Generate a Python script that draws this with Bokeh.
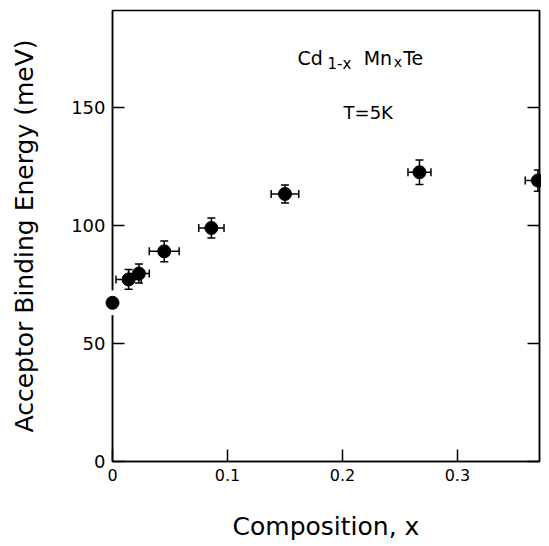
from bokeh.plotting import figure
from bokeh.models import Range1d, LinearAxis, FixedTicker, Whisker, ColumnDataSource, Label
from bokeh.embed import file_html
from bokeh.resources import INLINE

# Data
composition = [0.0, 0.014, 0.023, 0.045, 0.086, 0.150, 0.267, 0.370]
energy = [67.2, 77.1, 79.6, 89.0, 98.9, 113.3, 122.5, 119.0]
x_err = [0.0, 0.011, 0.009, 0.013, 0.011, 0.012, 0.010, 0.011]
y_err = [0.0, 4.2, 4.0, 4.4, 4.2, 3.8, 5.2, 4.5]

x_ticks = [0, 0.1, 0.2, 0.3]
x_tick_labels = {0: "0", 0.1: "0.1", 0.2: "0.2", 0.3: "0.3"}
y_ticks = [0, 50, 100, 150]

FONT = "DejaVu Sans"

p = figure(frame_width=427, frame_height=451, output_backend="svg", toolbar_location=None,
           x_range=Range1d(0, 0.3714), y_range=Range1d(0, 191),
           min_border_left=112, min_border_right=2, min_border_top=10, min_border_bottom=84)
p.background_fill_color = "white"
p.border_fill_color = "white"
p.outline_line_color = "black"
p.outline_line_width = 1.5
p.grid.visible = False

# axes
for ax in (p.xaxis[0], p.yaxis[0]):
    ax.axis_line_width = 1.5
    ax.major_tick_line_width = 1.5
    ax.major_tick_in = 12
    ax.major_tick_out = 0
    ax.minor_tick_line_color = None
    ax.major_label_text_font = FONT
    ax.axis_label_text_font = FONT
    ax.axis_label_text_font_style = "normal"
    ax.axis_label_text_color = "black"
    ax.major_label_text_color = "black"
    ax.axis_label_text_font_size = "25px"

p.xaxis[0].ticker = FixedTicker(ticks=x_ticks)
p.xaxis[0].major_label_overrides = x_tick_labels
p.xaxis[0].major_label_text_font_size = "16px"
p.xaxis[0].major_label_standoff = 7
p.xaxis[0].axis_label = "Composition, x"
p.xaxis[0].axis_label_standoff = 28

p.yaxis[0].ticker = FixedTicker(ticks=y_ticks)
p.yaxis[0].major_label_text_font_size = "18px"
p.yaxis[0].major_label_standoff = 7
p.yaxis[0].axis_label = "Acceptor Binding Energy (meV)"
p.yaxis[0].axis_label_standoff = 29

right = LinearAxis(ticker=FixedTicker(ticks=y_ticks), major_label_text_color=None,
                   major_label_standoff=0, major_tick_in=12, major_tick_out=0,
                   minor_tick_line_color=None, axis_line_width=1.5, major_tick_line_width=1.5)
p.add_layout(right, "right")

# error bars (points with uncertainties)
idx = [i for i in range(len(composition)) if y_err[i] > 0]
err = ColumnDataSource(dict(
    x=[composition[i] for i in idx],
    y=[energy[i] for i in idx],
    xl=[composition[i] - x_err[i] for i in idx],
    xu=[composition[i] + x_err[i] for i in idx],
    yl=[energy[i] - y_err[i] for i in idx],
    yu=[energy[i] + y_err[i] for i in idx],
))
for dim, base, lo, up in (("height", "x", "yl", "yu"), ("width", "y", "xl", "xu")):
    w = Whisker(source=err, base=base, lower=lo, upper=up, dimension=dim,
                line_color="black", line_width=1.5, level="overlay")
    w.upper_head.size = 8
    w.lower_head.size = 8
    w.upper_head.line_width = 1.5
    w.lower_head.line_width = 1.5
    p.add_layout(w)

src = ColumnDataSource(dict(x=composition, y=energy))
p.scatter(x=[composition[0]], y=[energy[0]], size=24, color="white", level="overlay")
p.scatter("x", "y", source=src, size=13, color="black", level="overlay")

# annotations
def lab(x, y, text, size):
    p.add_layout(Label(x=x, y=y, text=text, text_font=FONT, text_font_size=size,
                       text_color="black", text_baseline="alphabetic", text_align="left"))

lab(0.161, 171, "Cd", "19px")
lab(0.187, 168.4, "1-x", "15px")
lab(0.2185, 171, "Mn", "19px")
lab(0.2446, 169.0, "x", "14px")
lab(0.2528, 171, "Te", "19px")
lab(0.201, 147.8, "T=5K", "18px")

open("out.html", "w").write(file_html(p, INLINE))
